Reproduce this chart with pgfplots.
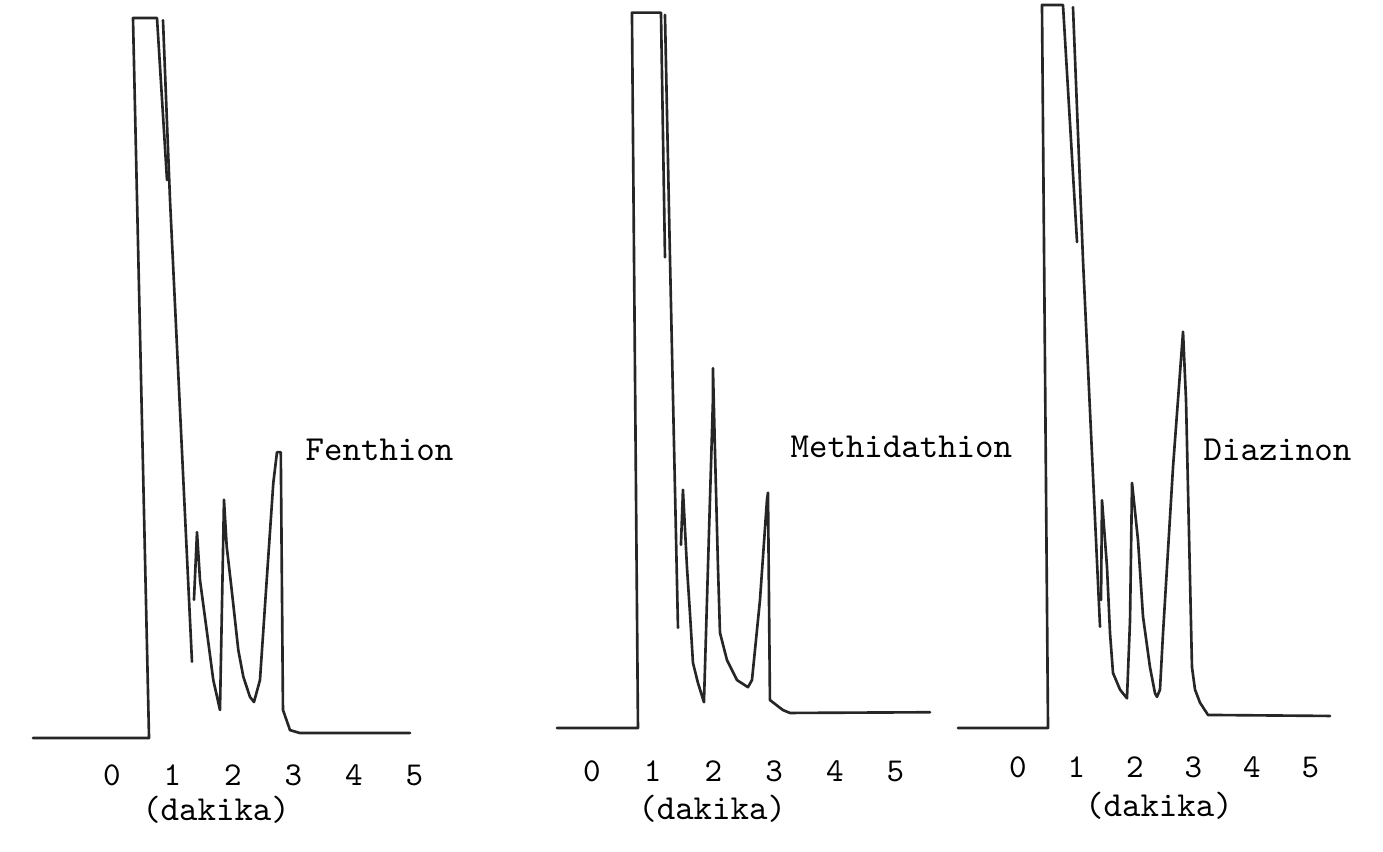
\documentclass[border=0pt]{standalone}
\usepackage{fontspec}
\usepackage{pgfplots}
\pgfplotsset{compat=1.18}

% x in minutes, y in % of recorder full scale (pen limit = 100)
\pgfplotsset{
  trace/.style={black!85, line width=0.75pt, line join=round, line cap=round},
  chrom/.style={
    scale only axis, clip=false, anchor=south west,
    axis y line=none, axis x line=bottom,
    x axis line style={draw=none},
    xtick={0,1,2,3,4,5}, xticklabels={0,1,2,3,4,5},
    major tick length=0pt, tick style={draw=none},
    xticklabel style={anchor=center, inner sep=0pt, yshift=0.45mm,
                      font=\fontsize{9.5}{11}\selectfont\ttfamily},
  },
}
\tikzset{lbl/.style={font=\fontsize{10}{12}\selectfont\ttfamily, inner sep=0pt}}

\begin{document}
\begin{tikzpicture}

% Fenthion
\begin{axis}[chrom, at={(2.73mm,7.2mm)},
  x=6.05mm, y=0.72mm, xmin=-1.4, xmax=5.2, ymin=-5.83, ymax=100.5]
\addplot[trace] coordinates {(-1.306,0) (0.612,0) (0.347,100) (0.744,100) (0.909,77.5)};
\addplot[trace] coordinates {(0.843,99.7) (0.959,74.7) (1.322,10.6)};
\addplot[trace] coordinates {(1.355,19.2) (1.405,28.6) (1.455,21.9) (1.565,15.0)
  (1.674,8.06) (1.785,3.89) (1.851,33.1) (1.896,26.6) (1.978,20.6) (2.088,12.2)
  (2.171,8.5) (2.281,5.7) (2.347,5.0) (2.446,8.06) (2.557,21.9) (2.666,35.4)
  (2.727,39.7) (2.790,39.7) (2.826,3.9) (2.942,1.1) (3.107,0.69) (4.926,0.69)};
\node[lbl, anchor=west] at (axis cs:3.19,40) {Fenthion};
\node[lbl] at (axis cs:1.72,-9.9) {(dakika)};
\end{axis}

% Methidathion
\begin{axis}[chrom, at={(55.25mm,7.63mm)},
  x=6.07mm, y=0.7153mm, xmin=-0.65, xmax=5.65, ymin=-6.67, ymax=100.5]
\addplot[trace] coordinates {(-0.577,0) (0.758,0) (0.659,100) (1.137,100) (1.203,65.8)};
\addplot[trace] coordinates {(1.203,99.7) (1.285,65.8) (1.417,14.0)};
\addplot[trace] coordinates {(1.466,25.6) (1.499,33.3) (1.565,22.5) (1.614,16.1)
  (1.664,9.1) (1.746,6.3) (1.845,3.6) (1.895,17.9) (1.944,31.9) (1.993,45.9)
  (1.993,50.3) (2.026,38.9) (2.076,22.5) (2.109,13.3) (2.224,9.5) (2.389,6.7)
  (2.570,5.7) (2.636,6.7) (2.768,17.9) (2.883,31.9) (2.900,32.9) (2.932,3.9)
  (3.147,2.5) (3.262,2.1) (5.568,2.2)};
\node[lbl, anchor=west] at (axis cs:3.262,39.3) {Methidathion};
\node[lbl] at (axis cs:1.98,-11.3) {(dakika)};
\end{axis}

% Diazinon
\begin{axis}[chrom, at={(95.365mm,8.0mm)},
  x=5.85mm, y=0.723mm, xmin=-1.1, xmax=5.4, ymin=-6.09, ymax=100.2]
\addplot[trace] coordinates {(-1.026,0) (0.513,0) (0.410,100) (0.769,100) (1.009,67.2)};
\addplot[trace] coordinates {(0.940,99.7) (1.111,64.7) (1.402,14.0)};
\addplot[trace] coordinates {(1.419,17.7) (1.436,31.5) (1.521,22.3) (1.573,13.1)
  (1.624,7.6) (1.744,5.3) (1.863,4.1) (1.915,14.9) (1.949,33.9) (2.051,26.0)
  (2.137,15.4) (2.256,8.4) (2.342,4.8) (2.376,4.3) (2.427,5.3) (2.479,13.1)
  (2.650,36.1) (2.821,54.8) (2.872,45.4) (2.974,8.4) (3.026,5.3) (3.111,3.5)
  (3.248,1.8) (5.333,1.66)};
\node[lbl, anchor=west] at (axis cs:3.162,38.5) {Diazinon};
\node[lbl] at (axis cs:2.41,-10.7) {(dakika)};
\end{axis}

\pgfresetboundingbox
\path[use as bounding box] (0,0) rectangle (138.3mm,85.2mm);
\end{tikzpicture}
\end{document}
